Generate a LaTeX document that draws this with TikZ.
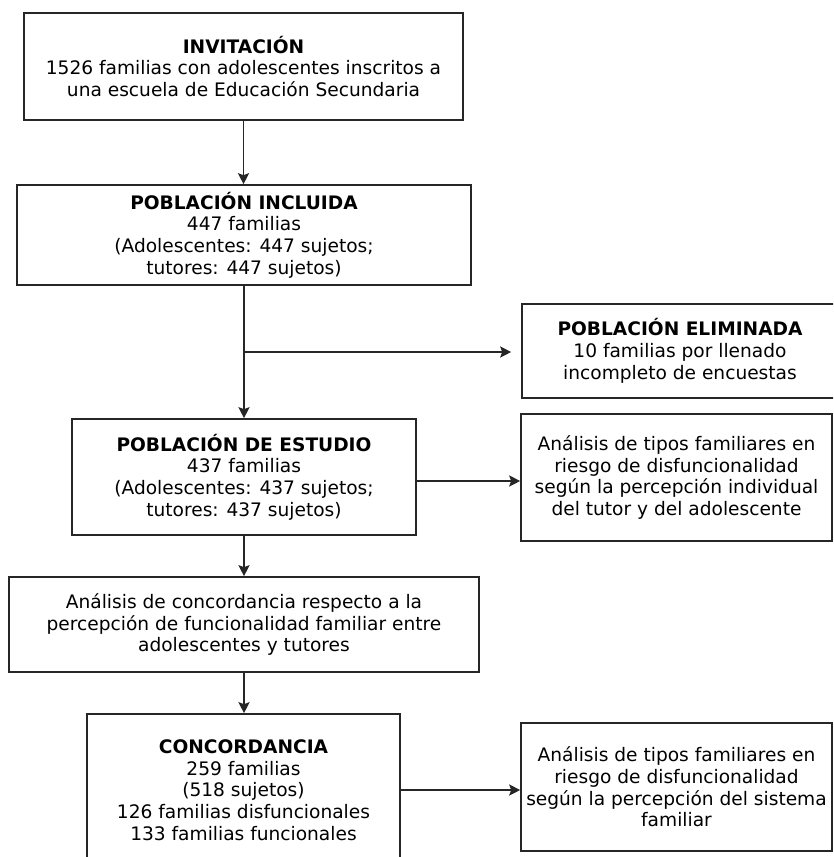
\documentclass[tikz,border=0pt]{standalone}
\usepackage{fontspec}
\setmainfont{DejaVu Sans}
\usetikzlibrary{arrows.meta}
\begin{document}
\begin{tikzpicture}[x=1pt,y=-1pt,
  box/.style={draw=black!85, line width=1.6pt, align=center, inner sep=0pt,
    font=\fontsize{18.6}{21.7}\selectfont, text=black},
  arr/.style={-{Stealth[length=11pt,width=11pt,inset=2pt]}, line width=1.8pt, draw=black!85}]
\useasboundingbox (0,0) rectangle (833,857);
\fill[white] (0,0) rectangle (833,857);
\begin{scope}
\clip (0,0) rectangle (833,857);
\node[box, minimum width=439pt, minimum height=107pt] (inv) at (243.5,66.5)
  {\textbf{INVITACIÓN}\\1526 familias con adolescentes inscritos a\\una escuela de Educación Secundaria};
\node[box, minimum width=454pt, minimum height=100pt] (inc) at (244,235)
  {\textbf{POBLACIÓN INCLUIDA}\\447 familias\\(Adolescentes: 447 sujetos;\\tutores: 447 sujetos)};
\node[box, minimum width=316pt, minimum height=94pt] (eli) at (680,351)
  {\textbf{POBLACIÓN ELIMINADA}\\10 familias por llenado\\incompleto de encuestas};
\node[box, minimum width=344pt, minimum height=116pt] (est) at (244,477)
  {\textbf{POBLACIÓN DE ESTUDIO}\\437 familias\\(Adolescentes: 437 sujetos;\\tutores: 437 sujetos)};
\node[box, minimum width=311pt, minimum height=127pt] (an1) at (676.5,477.5)
  {Análisis de tipos familiares en\\riesgo de disfuncionalidad\\según la percepción individual\\del tutor y del adolescente};
\node[box, minimum width=470pt, minimum height=95pt] (an2) at (244,624.5)
  {Análisis de concordancia respecto a la\\percepción de funcionalidad familiar entre\\adolescentes y tutores};
\node[box, minimum width=313pt, minimum height=152pt] (con) at (243.5,790)
  {\textbf{CONCORDANCIA}\\259 familias\\(518 sujetos)\\126 familias disfuncionales\\133 familias funcionales};
\node[box, minimum width=311pt, minimum height=128pt] (an3) at (676.5,787)
  {Análisis de tipos familiares en\\riesgo de disfuncionalidad\\según la percepción del sistema\\familiar};
\end{scope}
\coordinate (br) at (244,352);
\draw[arr] (inv.south) -- (inv.south |- inc.north);
\draw[arr] (inc.south) -- (inc.south |- est.north);
\draw[arr, shorten >=10pt] (br) -- (br -| eli.west);
\draw[arr] ([yshift=-4pt]est.east) -- ([yshift=-4pt]est.east -| an1.west);
\draw[arr] (est.south) -- (est.south |- an2.north);
\draw[arr] (an2.south) -- (an2.south |- con.north);
\draw[arr] (con.east) -- (con.east -| an3.west);
\end{tikzpicture}
\end{document}
